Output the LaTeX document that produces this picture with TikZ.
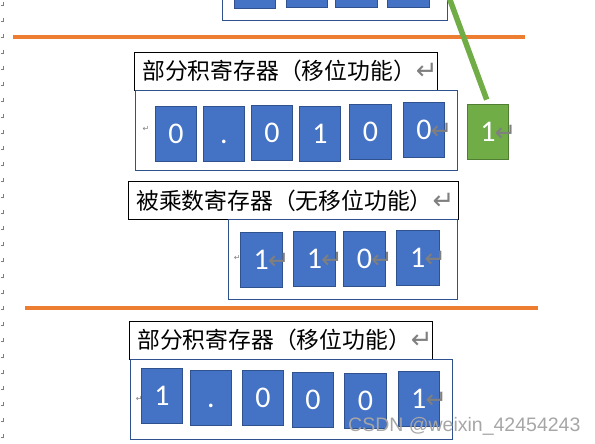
\documentclass[tikz,border=0pt]{standalone}
\usepackage{fontspec}
\setmainfont{Carlito}
\newfontfamily\cjk{Noto Sans CJK SC}
\newfontfamily\markfont{DejaVu Sans}
\newfontfamily\wmfont{Liberation Sans}
\usepackage{tikz}
\usetikzlibrary{positioning}

\definecolor{bitfill}{HTML}{4472C4}
\definecolor{bitline}{HTML}{2F528F}
\definecolor{cut}{HTML}{ED7D31}
\definecolor{feedfill}{HTML}{70AD47}
\definecolor{feedline}{HTML}{507E32}
\definecolor{markgray}{HTML}{7F7F7F}
\newcommand{\retmark}{{\markfont\fontsize{26}{26}\selectfont\color{markgray}\smash{\raisebox{0pt}{↵}}}}
\newcommand{\rbit}[1]{#1\rlap{\kern-1pt\retmark}}

\begin{document}
\begin{tikzpicture}[x=1pt, y=-1pt,
	bit/.style={draw=bitline, fill=bitfill, line width=0.8pt, minimum width=41.4pt, minimum height=55pt, inner sep=0pt, text=white, font=\fontsize{30}{30}\selectfont},
	reg/.style={draw=bitline, line width=0.8pt, inner sep=0pt},
	title/.style={draw=black, line width=1pt, inner xsep=8pt, inner ysep=0pt, align=left, minimum height=38pt, font=\cjk\fontsize{22.8}{24}\selectfont},
	tiny/.style={text=markgray, inner sep=0pt, font=\markfont\fontsize{8}{8}\selectfont},
	split/.style={draw=cut, line width=4pt},
	feed/.style={draw=feedfill, line width=5.5pt}]
				\useasboundingbox (0,0) rectangle (595,444);
				\clip (0,0) rectangle (595,444);
				
				% margin marks
				\foreach \y in {5,21,...,437}
					\draw[markgray, line width=0.5pt] (3,\y-3) -- (3,\y) -- (1,\y);
				
				% previous step (cut off)
				\node[reg, minimum width=225.4pt, minimum height=80pt] (R0) at (335,-20) {};
				\node[bit] (A1) at (255,-19.5) {};
				\node[bit] (A2) at (307,-20) {};
				\node[bit] (A3) at (356.3,-20) {};
				\node[bit] (A4) at (408.2,-20) {};
				
				\coordinate (O1) at (13,37);
				\coordinate (O2) at (525,37);
				\draw[split] (O1) -- (O2);
				
				% partial product
				\node[title, minimum width=303pt, text width=287pt] (T1) at (285.8,71.3) {部分积寄存器（移位功能）\retmark};
				\node[reg, minimum width=322pt, minimum height=80pt] (R1) at (296.3,130.3) {};
				\node[tiny] (r1) at (146,129) {↵};
				\node[bit] (P1) at (176,133.8) {0};
				\node[bit] (P2) at (223.9,133.8) {\vphantom{0}.};
				\node[bit] (P3) at (272,132.8) {0};
				\node[bit] (P4) at (320,133.8) {1};
				\node[bit] (P5) at (370.5,131.8) {0};
				\node[bit] (P6) at (424,129.8) {\rbit{0}};
				\node[bit, fill=feedfill, draw=feedline] (G1) at (488,131.8) {\rbit{1}};
				\coordinate (L1) at (431.6,-50);
				\draw[feed] (G1.north) ++(-1.3,-4.3) -- (L1);
				
				% multiplicand
				\node[title, minimum width=330.4pt, text width=314.4pt] (T2) at (293.5,200.5) {被乘数寄存器（无移位功能）\retmark};
				\node[reg, minimum width=229.4pt, minimum height=80pt] (R2) at (343,259.3) {};
				\node[tiny] (r2) at (237.3,258.3) {↵};
				\node[bit, minimum width=42.5pt] (M1) at (261.3,259.8) {\rbit{1}};
				\node[bit, minimum width=42.5pt] (M2) at (314.5,259) {\rbit{1}};
				\node[bit, minimum width=42.5pt] (M3) at (364.5,259) {\rbit{0}};
				\node[bit, minimum width=42.5pt] (M4) at (417.7,258) {\rbit{1}};
				
				\coordinate (O3) at (25,307.7);
				\coordinate (O4) at (537.7,307.7);
				\draw[split] (O3) -- (O4);
				
				% partial product after shift
				\node[title, minimum width=303pt, text width=287pt] (T3) at (280.8,340.3) {部分积寄存器（移位功能）\retmark};
				\node[reg, minimum width=322pt, minimum height=79.7pt] (R3) at (291.7,399.2) {};
				\node[tiny] (r3) at (139.3,398.7) {↵};
				\node[bit] (Q1) at (162,395.8) {1};
				\node[bit] (Q2) at (211,398) {\vphantom{0}.};
				\node[bit] (Q3) at (263,398) {0};
				\node[bit] (Q4) at (313,400) {0};
				\node[bit, minimum width=42.4pt] (Q5) at (365.5,400.8) {0};
				\node[bit] (Q6) at (418.8,398.5) {\rbit{1}};
				
				\node[anchor=base west, inner sep=0pt, text=black!35, font=\wmfont\fontsize{19.5}{20}\selectfont] (W) at (348,431.7) {CSDN @weixin\_42454243};
			\end{tikzpicture}
\end{document}
